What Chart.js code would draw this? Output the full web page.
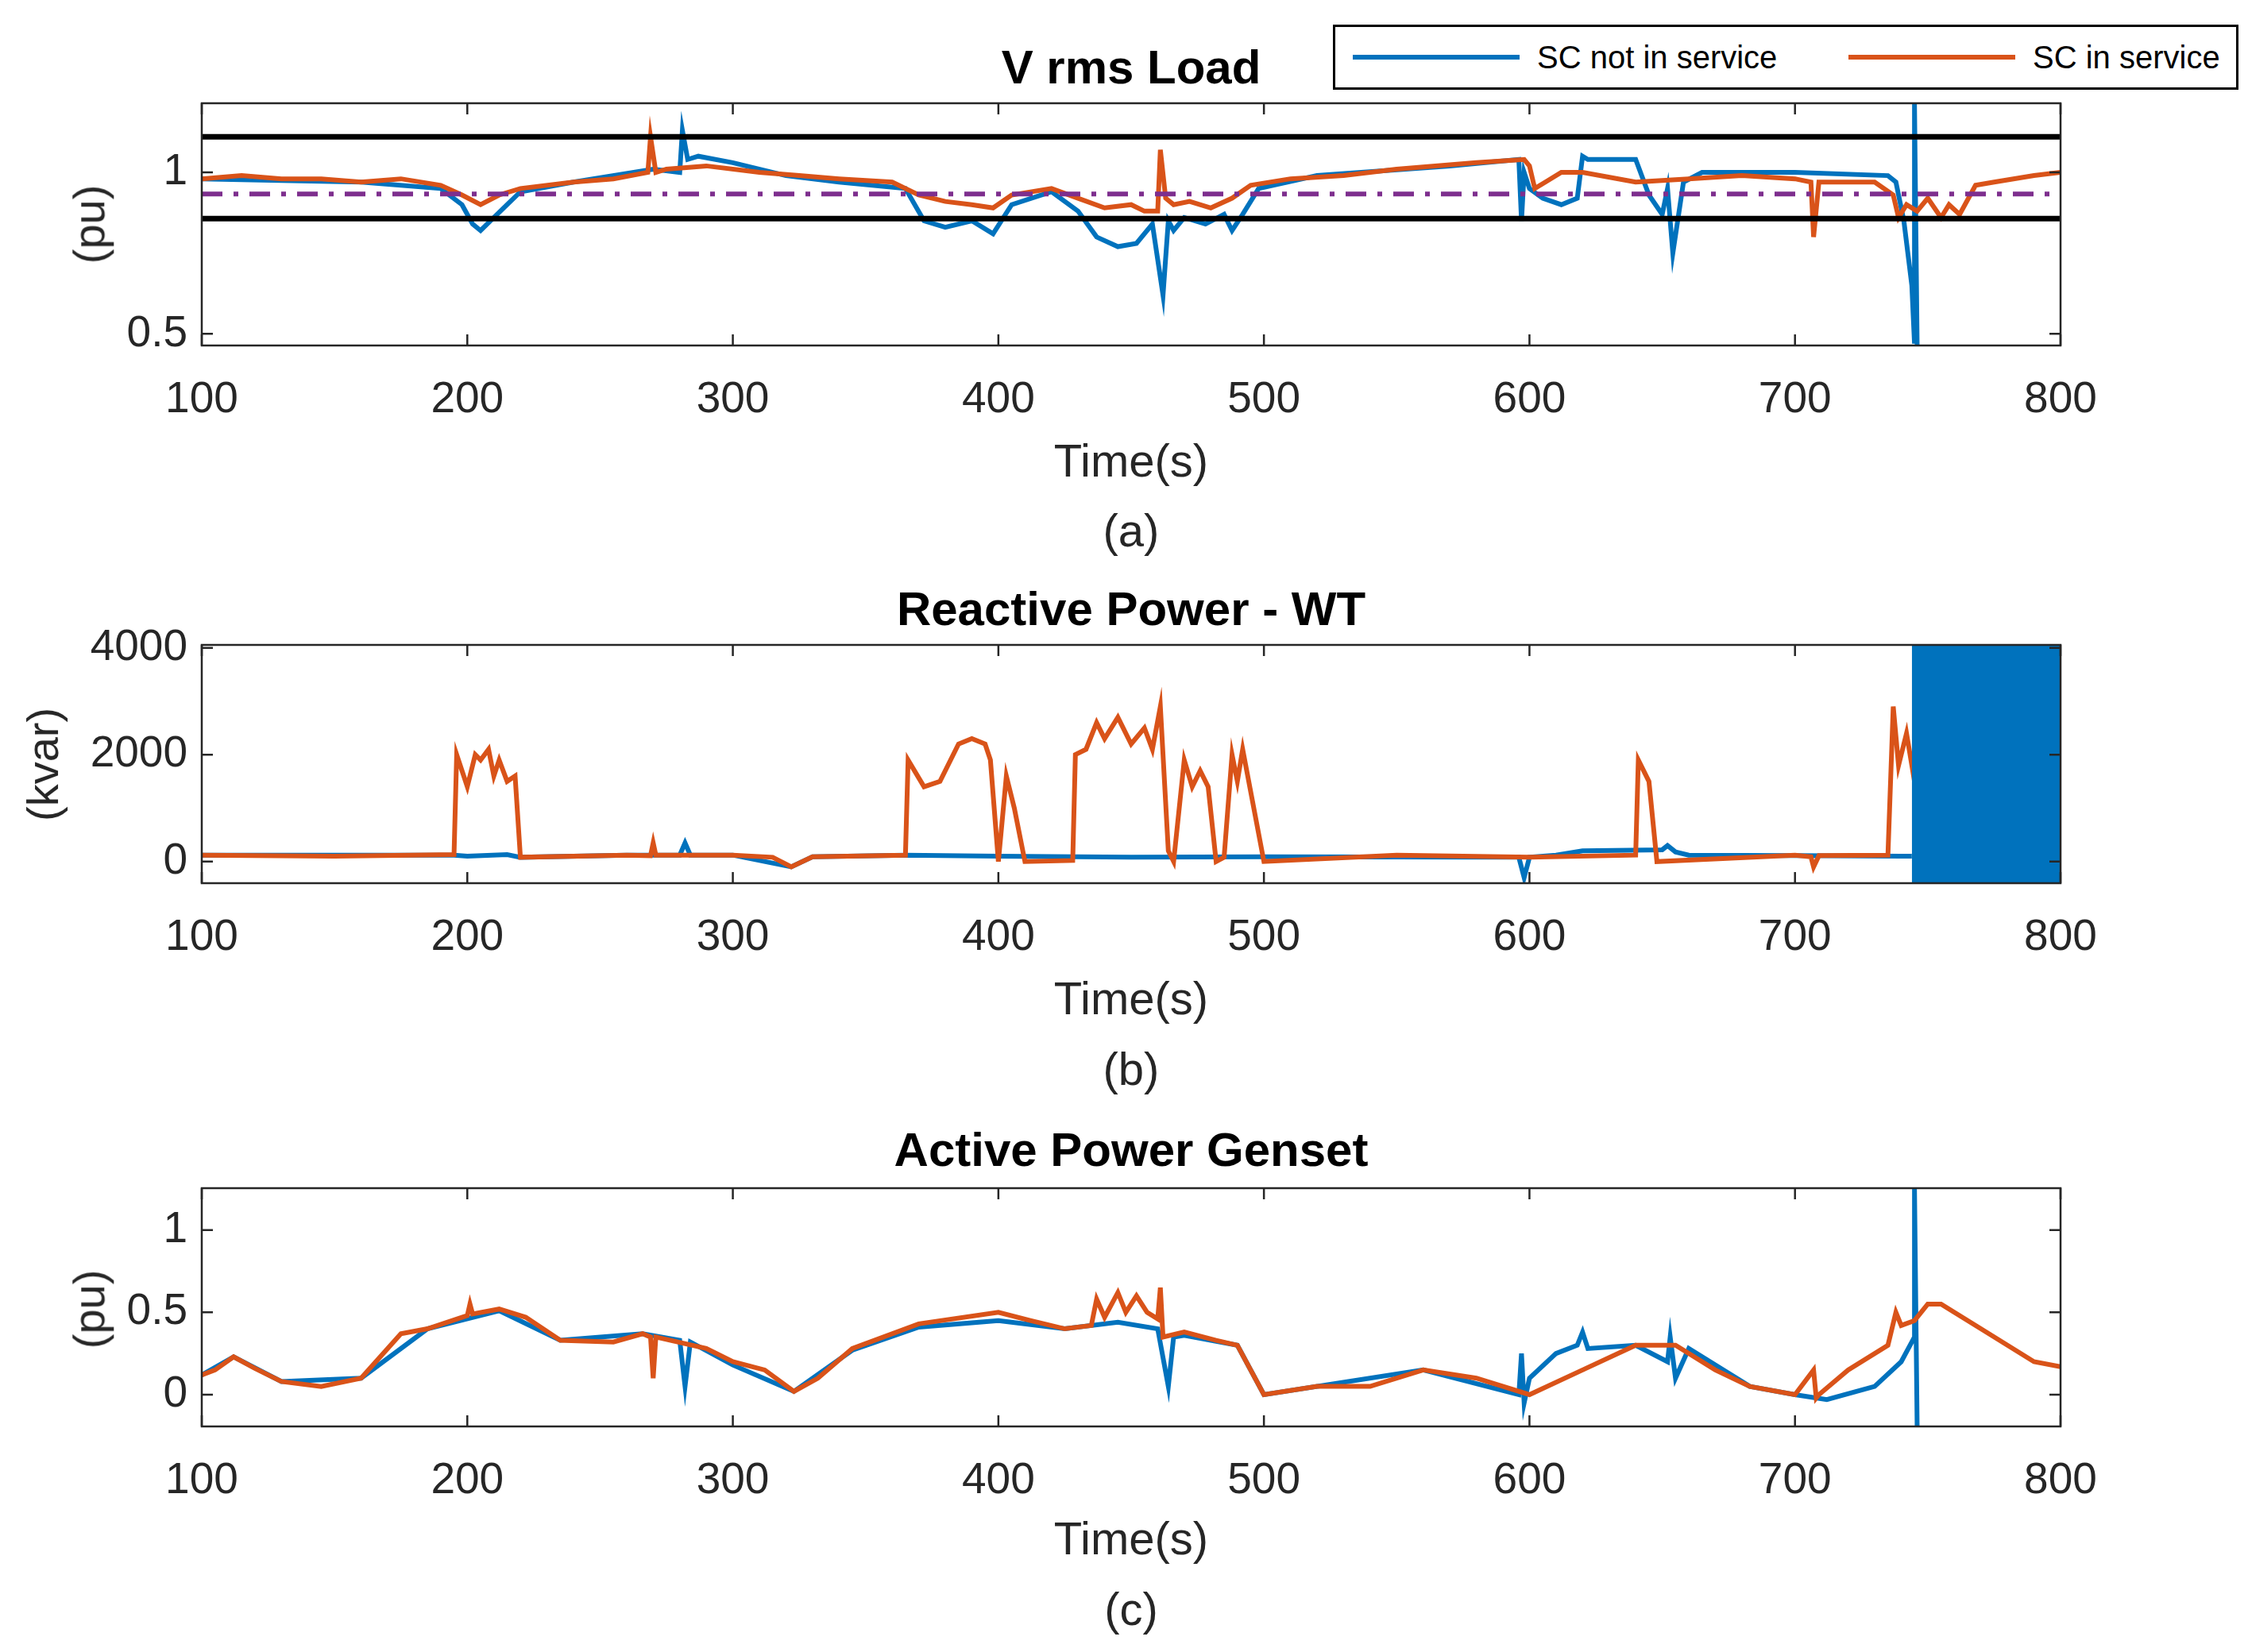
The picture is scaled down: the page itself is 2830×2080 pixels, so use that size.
<!DOCTYPE html>
<html>
<head>
<meta charset="utf-8">
<script src="https://cdn.jsdelivr.net/npm/chart.js@4.4.1/dist/chart.umd.min.js"></script>
<style>
  body { margin:0; background:#fff; font-family:"Liberation Sans", Arial, sans-serif; }
  #page { position:relative; width:2830px; height:2080px; }
  canvas { position:absolute; left:0; }
  .txt { position:absolute; left:0; width:2848px; text-align:center; color:#262626; font-size:58px; }
  .title { font-weight:bold; color:#000; font-size:60px; }
  .ylab { position:absolute; font-size:56px; color:#262626; transform:rotate(-90deg); transform-origin:center; white-space:nowrap; }
  #legend { position:absolute; left:1678px; top:31px; width:1134px; height:76px; border:3px solid #000; background:#fff;
    font-size:40px; color:#000; display:flex; align-items:center; }
  #legend .sw { display:inline-block; width:210px; height:6px; margin:0 22px 0 22px; }
</style>
</head>
<body>
<div id="page">
  <canvas id="chartA"></canvas>
  <canvas id="chartB"></canvas>
  <canvas id="chartC"></canvas>

  <div class="txt title" style="top:50px">V rms Load</div>
  <div class="txt" style="top:546px">Time(s)</div>
  <div class="txt" style="top:634px">(a)</div>
  <div class="ylab" style="left:62px;top:250px">(pu)</div>

  <div class="txt title" style="top:732px">Reactive Power - WT</div>
  <div class="txt" style="top:1223px">Time(s)</div>
  <div class="txt" style="top:1312px">(b)</div>
  <div class="ylab" style="left:-18px;top:930px">(kvar)</div>

  <div class="txt title" style="top:1413px">Active Power Genset</div>
  <div class="txt" style="top:1903px">Time(s)</div>
  <div class="txt" style="top:1992px">(c)</div>
  <div class="ylab" style="left:62px;top:1616px">(pu)</div>

  <div id="legend">
    <span class="sw" style="background:#0072BD"></span><span style="width:370px">SC not in service</span>
    <span class="sw" style="background:#D95319"></span><span>SC in service</span>
  </div>
</div>
<script>
// ---- data ----
const xTicks = [100, 200, 300, 400, 500, 600, 700, 800];

// (a) V rms load (pu)
const vLimitHigh = 1.11;
const vLimitLow = 0.857;
const vRef = 0.933;
const vOnT = [100,115,130,145,160,175,190,198,205,212,220,240,255,268,269,271,275,290,310,325,340,360,370,380,390,398,405,420,430,440,450,455,460,461,463,466,472,480,488,495,510,530,550,580,598,600,602,606,612,620,640,660,680,700,706,707,709,712,730,737,739,742,746,750,755,758,762,768,775,790,800];
const vOn  = [0.98,0.99,0.98,0.98,0.97,0.98,0.96,0.93,0.90,0.93,0.95,0.97,0.98,1.0,1.11,1.0,1.01,1.02,1.0,0.99,0.98,0.97,0.93,0.91,0.90,0.89,0.93,0.95,0.92,0.89,0.90,0.88,0.88,1.07,0.92,0.90,0.91,0.89,0.92,0.96,0.98,0.99,1.01,1.03,1.04,1.02,0.95,0.97,1.0,1.0,0.97,0.98,0.99,0.98,0.97,0.80,0.97,0.97,0.97,0.93,0.86,0.90,0.88,0.92,0.86,0.90,0.87,0.96,0.97,0.99,1.0];
const vOffT = [100,160,190,198,202,205,210,215,220,240,270,280,281,283,287,300,320,340,365,372,380,390,398,405,420,430,437,445,452,458,462,464,466,470,478,485,488,492,498,520,570,596,597,598,600,605,612,618,620,622,640,645,650,652,654,658,665,700,735,738,741,744,745,745,746];
const vOff  = [0.98,0.97,0.95,0.90,0.84,0.82,0.86,0.90,0.94,0.97,1.01,1.0,1.13,1.04,1.05,1.03,0.99,0.97,0.95,0.85,0.83,0.85,0.81,0.90,0.94,0.88,0.80,0.77,0.78,0.84,0.62,0.85,0.82,0.86,0.84,0.87,0.82,0.87,0.95,0.99,1.02,1.04,0.85,1.0,0.95,0.92,0.90,0.92,1.05,1.04,1.04,0.93,0.87,0.95,0.75,0.97,1.0,1.0,0.99,0.97,0.85,0.65,0.47,1.214,0.464];

// (b) reactive power WT (kvar)
const qOnT = [100,150,195,196,200,203,205,208,210,212,215,218,220,260,269,270,271,300,315,322,330,365,366,372,378,385,390,395,397,400,403,406,410,428,429,433,437,440,445,450,455,458,461,464,466,470,473,476,479,482,485,488,490,492,500,550,600,640,641,645,648,700,706,707,709,735,737,739,742,745,748,750,753,756,759,762,765,768,770,780,800];
const qOn  = [120,100,130,2000,1400,2000,1900,2100,1600,1900,1500,1600,80,120,110,350,120,120,80,-100,90,120,1900,1400,1500,2200,2300,2200,1900,0,1600,1000,0,20,2000,2100,2600,2300,2700,2200,2500,2100,2900,200,0,1900,1400,1700,1400,0,80,2000,1500,2100,0,120,80,120,1900,1500,0,120,90,-100,110,120,2900,1800,2400,1500,2600,2200,2700,2000,2500,1500,2500,1200,0,70,100];
const qOffT = [100,195,200,215,220,260,280,282,284,300,322,330,365,400,450,500,596,598,600,610,620,650,652,655,660,700,740,744];
const qOff  = [120,120,100,130,80,120,120,350,120,120,-100,90,120,100,80,90,80,-300,80,120,200,220,300,180,120,110,100,100];
const qBlockT = [744, 801];
const qBlock  = [4054, 4054];

// (c) active power genset (pu)
const pOnT = [100,105,112,120,130,145,160,175,185,200,201,202,212,222,235,255,266,269,270,271,290,300,312,323,332,345,370,400,412,425,435,437,440,445,448,452,456,460,461,462,470,482,490,500,520,540,560,580,600,620,640,655,670,683,700,707,708,709,720,735,738,740,745,750,755,770,790,800];
const pOn  = [0.12,0.15,0.23,0.16,0.08,0.05,0.1,0.37,0.40,0.48,0.55,0.49,0.52,0.47,0.33,0.32,0.37,0.35,0.1,0.35,0.28,0.2,0.15,0.02,0.1,0.28,0.43,0.50,0.45,0.40,0.42,0.58,0.47,0.62,0.5,0.6,0.5,0.46,0.65,0.35,0.38,0.33,0.3,0.0,0.05,0.05,0.15,0.1,0.0,0.15,0.3,0.30,0.15,0.05,0.0,0.15,-0.02,0.0,0.15,0.3,0.5,0.42,0.45,0.55,0.55,0.4,0.2,0.17];
const pOffT = [100,112,130,160,185,212,235,266,280,282,284,300,323,345,370,400,425,445,460,464,466,470,490,500,560,596,597,598,600,610,618,620,622,640,652,653,655,660,683,700,712,730,740,744,745,745,746];
const pOff  = [0.12,0.23,0.08,0.1,0.40,0.51,0.33,0.37,0.33,0.05,0.32,0.18,0.02,0.27,0.41,0.45,0.40,0.44,0.4,0.05,0.35,0.36,0.3,0.0,0.15,0.0,0.25,-0.05,0.1,0.25,0.3,0.38,0.28,0.3,0.2,0.35,0.1,0.28,0.05,0.0,-0.03,0.05,0.2,0.32,0.35,1.254,-0.193];

const BLUE = '#0072BD';
const ORANGE = '#D95319';
const pts = (xs, ys) => xs.map((x, i) => ({ x: x, y: ys[i] }));
const flat = (v) => [{ x: 100, y: v }, { x: 800, y: v }];

// box around plot area plus inward tick marks, MATLAB style
const boxPlugin = {
  id: 'box',
  afterDraw(chart) {
    const { ctx, chartArea: a, scales } = chart;
    ctx.save();
    ctx.strokeStyle = '#262626';
    ctx.lineWidth = 2.5;
    ctx.strokeRect(a.left, a.top, a.right - a.left, a.bottom - a.top);
    ctx.beginPath();
    scales.x.ticks.forEach(t => {
      const px = scales.x.getPixelForValue(t.value);
      ctx.moveTo(px, a.bottom); ctx.lineTo(px, a.bottom - 14);
      ctx.moveTo(px, a.top); ctx.lineTo(px, a.top + 14);
    });
    scales.y.ticks.forEach(t => {
      const py = scales.y.getPixelForValue(t.value);
      ctx.moveTo(a.left, py); ctx.lineTo(a.left + 14, py);
      ctx.moveTo(a.right, py); ctx.lineTo(a.right - 14, py);
    });
    ctx.stroke();
    ctx.restore();
  }
};

// Chart.js keeps some room above the plot area for the top tick label
const TOP_GAP = 44;

function makeChart(id, plotTop, plotH, datasets, yMin, yMax, yTicks) {
  const canvas = document.getElementById(id);
  canvas.style.top = (plotTop - TOP_GAP) + 'px';
  canvas.width = 2830;
  canvas.height = TOP_GAP + plotH + 120;
  canvas.style.width = '2830px';
  canvas.style.height = canvas.height + 'px';
  return new Chart(canvas, {
    type: 'line',
    data: { datasets },
    plugins: [boxPlugin],
    options: {
      responsive: false,
      animation: false,
      devicePixelRatio: 1,
      layout: { padding: { top: 0, right: 236, left: 0, bottom: 0 } },
      elements: { point: { radius: 0 }, line: { tension: 0, borderWidth: 6 } },
      plugins: { legend: { display: false }, tooltip: { enabled: false } },
      scales: {
        x: {
          type: 'linear', min: 100, max: 800,
          afterBuildTicks: s => { s.ticks = xTicks.map(v => ({ value: v })); },
          afterFit: s => { s.height = 120; },
          grid: { display: false },
          border: { display: false },
          ticks: { color: '#262626', padding: 28, font: { size: 55, family: 'Liberation Sans' },
                   callback: v => String(v) }
        },
        y: {
          min: yMin, max: yMax,
          afterBuildTicks: s => { s.ticks = yTicks.map(v => ({ value: v })); },
          afterFit: s => { s.width = 254; },
          grid: { display: false },
          border: { display: false },
          ticks: { color: '#262626', padding: 10, font: { size: 55, family: 'Liberation Sans' },
                   callback: v => String(v) }
        }
      }
    }
  });
}

makeChart('chartA', 131, 304, [
  { data: flat(vLimitHigh), borderColor: '#000', borderWidth: 7, order: 0 },
  { data: flat(vLimitLow), borderColor: '#000', borderWidth: 7, order: 0 },
  { data: flat(vRef), borderColor: '#7E2F8E', borderWidth: 6, borderDash: [26, 14, 6, 14], order: 1 },
  { data: pts(vOnT, vOn), borderColor: ORANGE, order: 2 },
  { data: pts(vOffT, vOff), borderColor: BLUE, order: 3 }
], 0.464, 1.214, [0.5, 1]);

makeChart('chartB', 813, 299, [
  { data: pts(qBlockT, qBlock), borderColor: BLUE, borderWidth: 0, backgroundColor: BLUE, fill: 'start', order: 0 },
  { data: pts(qOnT, qOn), borderColor: ORANGE, order: 1 },
  { data: pts(qOffT, qOff), borderColor: BLUE, order: 2 }
], -405, 4054, [0, 2000, 4000]);

makeChart('chartC', 1497, 299, [
  { data: pts(pOnT, pOn), borderColor: ORANGE, order: 1 },
  { data: pts(pOffT, pOff), borderColor: BLUE, order: 2 }
], -0.193, 1.254, [0, 0.5, 1]);
</script>
</body>
</html>
